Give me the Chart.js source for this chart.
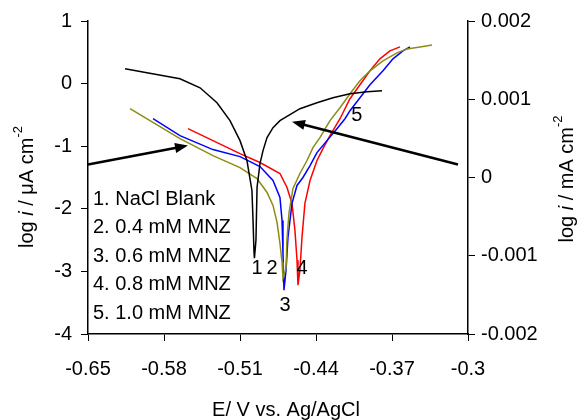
<!DOCTYPE html>
<html>
<head>
<meta charset="utf-8">
<script src="https://cdn.jsdelivr.net/npm/chart.js@4.4.1/dist/chart.umd.min.js"></script>
<style>
  body { margin: 0; background: #fff; }
  canvas { display: block; }
</style>
</head>
<body>
<canvas id="graficoTafel" width="584" height="420"></canvas>
<script>
// Eixos
const xTicks = [-0.65, -0.58, -0.51, -0.44, -0.37, -0.3];
const yTicks = [-4, -3, -2, -1, 0, 1];
const y2Ticks = [-0.002, -0.001, 0, 0.001, 0.002];

// 1. NaCl Blank (preto)
const blankE = [-0.6159, -0.5957, -0.5653, -0.5468, -0.5312, -0.5192, -0.5100, -0.5036, -0.4990, -0.4980, -0.4971, -0.4967,
    -0.4953, -0.4943, -0.4916, -0.4888, -0.4851, -0.4796, -0.4732, -0.4640, -0.4548, -0.4391, -0.4244, -0.4087, -0.3930, -0.3792];
const blankLog = [0.236, 0.172, 0.076, -0.067, -0.306, -0.592, -0.911, -1.229, -1.707, -2.185, -2.694, -2.79,
    -2.503, -1.659, -1.277, -1.070, -0.863, -0.704, -0.592, -0.497, -0.401, -0.306, -0.226, -0.162, -0.131, -0.115];

// 2. 0.4 mM MNZ (oliva)
const mnz04E = [-0.6113, -0.5929, -0.5653, -0.5349, -0.5100, -0.4943, -0.4851, -0.4796, -0.4759, -0.4732, -0.4713, -0.4704,
    -0.4676, -0.4667, -0.4649, -0.4612, -0.4548, -0.4483, -0.4428, -0.4364, -0.4271, -0.4179, -0.4087, -0.3995, -0.3903,
    -0.3783, -0.3654, -0.3562, -0.3442, -0.3332];
const mnz04Log = [-0.401, -0.592, -0.879, -1.150, -1.341, -1.516, -1.739, -1.946, -2.217, -2.551, -2.854, -3.108,
    -2.949, -2.471, -2.073, -1.675, -1.436, -1.229, -1.022, -0.863, -0.592, -0.385, -0.162, 0.045, 0.204,
    0.363, 0.490, 0.554, 0.586, 0.618];

// 3. 0.6 mM MNZ (azul)
const mnz06E = [-0.5901, -0.5653, -0.5349, -0.5100, -0.4916, -0.4796, -0.4732, -0.4713, -0.4704, -0.4695,
    -0.4676, -0.4658, -0.4621, -0.4575, -0.4520, -0.4455, -0.4391, -0.4299, -0.4207, -0.4133, -0.4087, -0.3995,
    -0.3903, -0.3783, -0.3691, -0.3599, -0.3534];
const mnz06Log = [-0.561, -0.831, -1.054, -1.166, -1.325, -1.548, -1.819, -2.185, -2.710, -3.299,
    -2.981, -2.455, -1.914, -1.627, -1.500, -1.309, -1.102, -0.911, -0.720, -0.561, -0.433, -0.226,
    -0.019, 0.204, 0.395, 0.522, 0.586];

// 4. 0.8 mM MNZ (vermelho)
const mnz08E = [-0.5579, -0.5349, -0.5100, -0.4916, -0.4732, -0.4667, -0.4621, -0.4594, -0.4575, -0.4566,
    -0.4548, -0.4529, -0.4502, -0.4455, -0.4391, -0.4336, -0.4271, -0.4179, -0.4087, -0.3995, -0.3903,
    -0.3811, -0.3719, -0.3626];
const mnz08Log = [-0.720, -0.911, -1.118, -1.261, -1.436, -1.659, -1.914, -2.344, -2.822, -3.220,
    -2.981, -2.455, -1.914, -1.548, -1.229, -1.038, -0.831, -0.561, -0.242, -0.019, 0.204,
    0.395, 0.522, 0.586];

// Legenda em texto e rótulos das curvas
const legendaTextos = ['1. NaCl Blank', '2. 0.4 mM MNZ', '3. 0.6 mM MNZ', '4. 0.8 mM MNZ', '5. 1.0 mM MNZ'];
const rotulos = ['1', '2', '4', '3', '5'];
const rotulosE = [-0.4944, -0.4805, -0.4529, -0.4686, -0.4023];
const rotulosLog = [-2.95, -2.95, -2.95, -3.54, -0.51];

// Setas [E inicio, log inicio, E ponta, log ponta]
const setaEsquerda = [-0.65, -1.293, -0.5579, -0.990];
const setaDireita = [-0.3092, -1.293, -0.4621, -0.608];

const fonte = '"Liberation Sans", Arial, sans-serif';
Chart.defaults.font.family = fonte;
Chart.defaults.font.size = 20;
Chart.defaults.color = '#000';

function pares(xs, ys) {
    return xs.map((x, i) => ({ x: x, y: ys[i] }));
}

function serie(label, xs, ys, cor) {
    return {
        label: label,
        data: pares(xs, ys),
        borderColor: cor,
        borderWidth: 1.5,
        pointRadius: 0,
        fill: false,
        tension: 0
    };
}

function seta(ctx, x1, y1, x2, y2) {
    const ang = Math.atan2(y2 - y1, x2 - x1);
    const tam = 13;
    ctx.save();
    ctx.strokeStyle = '#000';
    ctx.fillStyle = '#000';
    ctx.lineWidth = 2.5;
    ctx.beginPath();
    ctx.moveTo(x1, y1);
    ctx.lineTo(x2 - Math.cos(ang) * tam * 0.8, y2 - Math.sin(ang) * tam * 0.8);
    ctx.stroke();
    ctx.beginPath();
    ctx.moveTo(x2, y2);
    ctx.lineTo(x2 - tam * Math.cos(ang) + 5 * Math.sin(ang), y2 - tam * Math.sin(ang) - 5 * Math.cos(ang));
    ctx.lineTo(x2 - tam * Math.cos(ang) - 5 * Math.sin(ang), y2 - tam * Math.sin(ang) + 5 * Math.cos(ang));
    ctx.closePath();
    ctx.fill();
    ctx.restore();
}

// titulo vertical com i italico e expoente
function tituloVertical(ctx, cx, cy, unidade) {
    const partes = [
        { t: 'log ', f: '20px ' + fonte, dy: 0 },
        { t: 'i', f: 'italic 20px ' + fonte, dy: 0 },
        { t: ' / ' + unidade + ' cm', f: '20px ' + fonte, dy: 0 },
        { t: '-2', f: '13px ' + fonte, dy: -9 }
    ];
    ctx.save();
    let total = 0;
    partes.forEach(p => { ctx.font = p.f; p.w = ctx.measureText(p.t).width; total += p.w; });
    ctx.translate(cx, cy);
    ctx.rotate(-Math.PI / 2);
    ctx.textBaseline = 'middle';
    ctx.fillStyle = '#000';
    let x = -total / 2;
    partes.forEach(p => {
        ctx.font = p.f;
        ctx.fillText(p.t, x, p.dy);
        x += p.w;
    });
    ctx.restore();
}

const extras = {
    id: 'extras',
    afterDraw(chart) {
        const ctx = chart.ctx;
        const sx = chart.scales.x;
        const sy = chart.scales.y;
        const area = chart.chartArea;

        seta(ctx, sx.getPixelForValue(setaEsquerda[0]), sy.getPixelForValue(setaEsquerda[1]),
            sx.getPixelForValue(setaEsquerda[2]), sy.getPixelForValue(setaEsquerda[3]));
        seta(ctx, sx.getPixelForValue(setaDireita[0]), sy.getPixelForValue(setaDireita[1]),
            sx.getPixelForValue(setaDireita[2]), sy.getPixelForValue(setaDireita[3]));

        ctx.save();
        ctx.fillStyle = '#000';
        ctx.font = '20px ' + fonte;
        ctx.textBaseline = 'middle';
        ctx.textAlign = 'left';
        legendaTextos.forEach((t, i) => {
            ctx.fillText(t, area.left + 5, area.top + 178 + i * 28.5);
        });
        ctx.textAlign = 'center';
        rotulos.forEach((t, i) => {
            ctx.fillText(t, sx.getPixelForValue(rotulosE[i]), sy.getPixelForValue(rotulosLog[i]));
        });
        ctx.fillText('E/ V vs. Ag/AgCl', (area.left + area.right) / 2 + 8, 410);
        ctx.restore();

        tituloVertical(ctx, 27, 187, 'μA');
        tituloVertical(ctx, 567, 179, 'mA');
    }
};

const ctxTafel = document.getElementById('graficoTafel').getContext('2d');
const graficoTafel = new Chart(ctxTafel, {
    type: 'line',
    data: {
        datasets: [
            serie(legendaTextos[0], blankE, blankLog, '#000000'),
            serie(legendaTextos[1], mnz04E, mnz04Log, '#8c8c14'),
            serie(legendaTextos[2], mnz06E, mnz06Log, '#0000ff'),
            serie(legendaTextos[3], mnz08E, mnz08Log, '#ff0000')
        ]
    },
    options: {
        responsive: false,
        devicePixelRatio: 1,
        animation: false,
        layout: { padding: { top: 20 } },
        plugins: {
            legend: { display: false },
            tooltip: { enabled: false }
        },
        scales: {
            x: {
                type: 'linear',
                min: -0.65,
                max: -0.3,
                afterBuildTicks: s => { s.ticks = xTicks.map(v => ({ value: v })); },
                afterFit: s => { s.height = 86; },
                ticks: { padding: 16, callback: v => String(v) },
                grid: { drawOnChartArea: false, tickLength: 7, color: '#000' },
                border: { color: '#000', width: 1.5 }
            },
            y: {
                type: 'linear',
                position: 'left',
                min: -4,
                max: 1,
                afterBuildTicks: s => { s.ticks = yTicks.map(v => ({ value: v })); },
                afterFit: s => { s.width = 88; },
                ticks: { padding: 9, callback: v => String(v) },
                grid: { drawOnChartArea: false, tickLength: 7, color: '#000' },
                border: { color: '#000', width: 1.5 }
            },
            y2: {
                type: 'linear',
                position: 'right',
                min: -0.002,
                max: 0.002,
                afterBuildTicks: s => { s.ticks = y2Ticks.map(v => ({ value: v })); },
                afterFit: s => { s.width = 116; },
                ticks: { padding: 6, callback: v => String(v) },
                grid: { drawOnChartArea: false, tickLength: 7, color: '#000' },
                border: { color: '#000', width: 1.5 }
            }
        }
    },
    plugins: [extras]
});
</script>
</body>
</html>
